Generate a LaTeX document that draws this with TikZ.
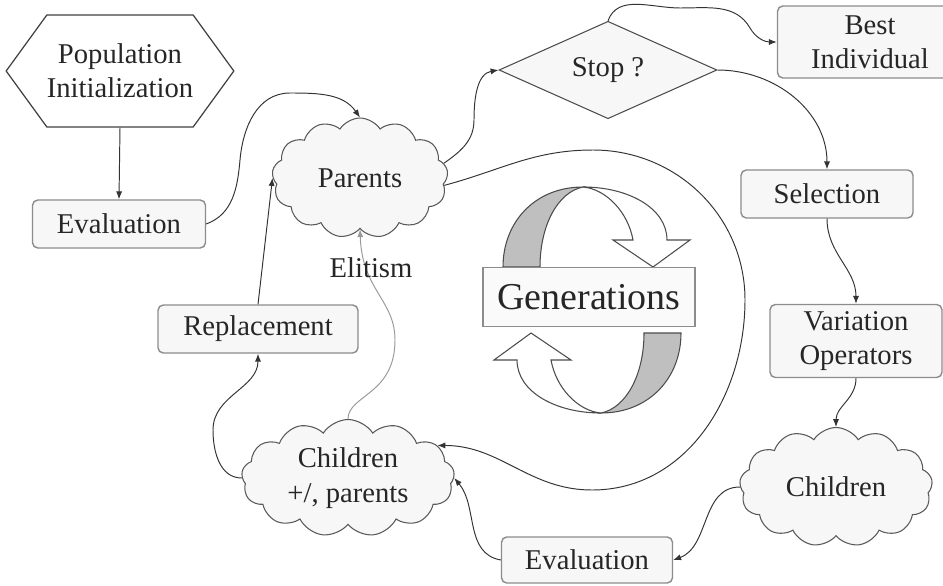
\documentclass[tikz,border=0pt]{standalone}
\usepackage{fontspec}
\setmainfont{Liberation Serif}
\usetikzlibrary{shapes.geometric,shapes.symbols,arrows.meta}

\begin{document}
\begin{tikzpicture}[x=0.02cm,y=0.02cm]
	\tikzstyle{every node}+=[inner sep=0pt, align=center, text=black!85, font=\fontsize{16.3}{19.5}\selectfont]
	\tikzstyle{box}=[draw=black!45, fill=black!3, line width=0.8pt, rounded corners=3pt]
	\tikzstyle{blob}=[cloud, cloud puffs=13, cloud puff arc=115, cloud ignores aspect, draw=black!65, fill=black!3, line width=0.6pt]
	\tikzstyle{conn}=[draw=black!80, line width=0.55pt, -{Latex[length=4.5pt,width=3.5pt]}]
	\tikzstyle{bandback}=[draw=black!70, fill=black!25, line width=0.6pt]
	\tikzstyle{bandfront}=[draw=black!70, fill=white, line width=0.6pt]
	\useasboundingbox (0,0) rectangle (943,-585);
	\node [signal, signal to=west and east, signal pointer angle=108, draw=black!75, line width=0.7pt, minimum width=4.44cm, minimum height=2.24cm] (init) at (120,-71) {Population\\Initialization};
	\node [box, minimum width=3.46cm, minimum height=0.96cm] (evalA) at (119,-224) {Evaluation};
	\node [blob, minimum width=3.52cm, minimum height=2.4cm] (parents) at (360,-178) {Parents};
	\node [diamond, draw=black!70, fill=black!3, line width=0.6pt, minimum width=4.36cm, minimum height=1.28cm] (stop) at (608,-70) {Stop ?};
	\node [box, minimum width=3.7cm, minimum height=1.44cm, text width=3.48cm] (best) at (870,-42) {Best\\Individual};
	\node [box, minimum width=3.44cm, minimum height=0.96cm] (select) at (827,-194) {Selection};
	\node [box, minimum width=3.44cm, minimum height=1.46cm] (vary) at (856,-341) {Variation\\Operators};
	\node [blob, minimum width=3.86cm, minimum height=2.38cm] (childR) at (836,-487) {Children};
	\node [box, minimum width=3.42cm, minimum height=0.92cm] (evalB) at (587,-560) {Evaluation};
	\node [blob, minimum width=4.26cm, minimum height=2.34cm] (childP) at (348,-478) {Children\\+/, parents};
	\node [box, minimum width=4cm, minimum height=0.96cm] (replace) at (258,-329) {Replacement};
	\foreach \turn in {0,180} {
		\begin{scope}[rotate around={\turn:(592,-300)}]
			\draw [bandback] (503,-267) .. controls (503,-222) and (535,-187) .. (583,-187) .. controls (558,-192) and (540,-225) .. (540,-267) -- cycle;
			\draw [bandfront] (583,-187) .. controls (628,-187) and (667,-208) .. (667,-240) -- (690,-240) -- (653,-267) -- (613,-240) -- (633,-240) .. controls (628,-212) and (606,-189) .. (583,-187) -- cycle;
		\end{scope}
	}
	\node [draw=black!45, fill=black!2, line width=0.8pt, minimum width=4.24cm, minimum height=1.18cm, font=\fontsize{21.6}{24}\selectfont] (gen) at (589,-297) {Generations};
	\draw [conn] (init.south) -- (evalA.north);
	\draw [conn] (evalA.east) to[out=20,in=-95] (240,-160) to[out=85,in=180] (290,-93) to[out=0,in=125] (parents.north);
	\draw [conn] (replace.north) -- (parents.west);
	\draw [conn, draw=black!40] (childP.north) .. controls (348,-395) and (395,-395) .. (395,-340) .. controls (395,-300) and (362,-290) .. (parents.south);
	\node (elit) at (371,-268) {Elitism};
	\draw [conn] (parents.10) to[out=35,in=-90] (474,-120) to[out=90,in=190] (stop.west);
	\draw [conn] (stop.north) to[out=70,in=180] (680,-8) to[out=0,in=120] (750,-28) to[out=-60,in=180] (best.west);
	\draw [conn] (stop.east) to[out=0,in=90] (select.north);
	\draw [conn] (select.south) to[out=-90,in=90] (vary.north);
	\draw [conn] (vary.south) to[out=-90,in=90] (childR.north);
	\draw [conn] (childR.west) to[out=180,in=20] (evalB.east);
	\draw [conn] (evalB.west) to[out=170,in=-50] (childP.east);
	\draw [conn] (parents.-5) to[out=15,in=180] (593,-150) to[out=0,in=90] (745,-300) to[out=-90,in=0] (592,-490) to[out=180,in=0] (childP.20);
	\draw [conn] (childP.west) to[out=180,in=-90] (213,-430) to[out=90,in=-90] (replace.south);
\end{tikzpicture}
\end{document}
